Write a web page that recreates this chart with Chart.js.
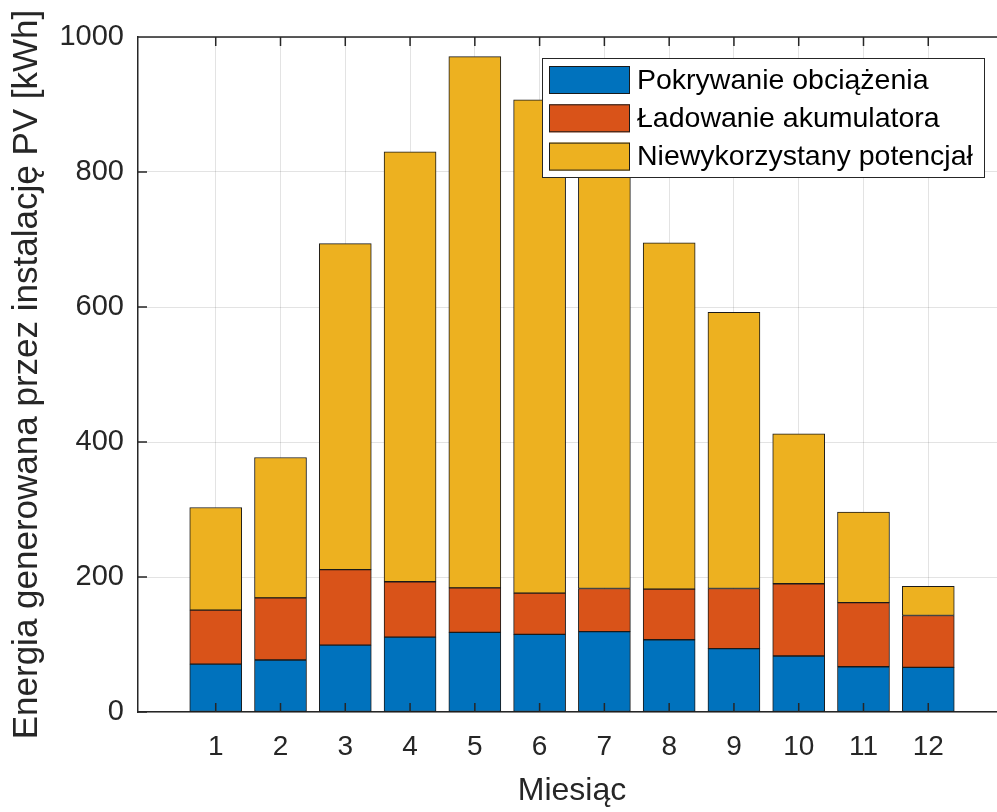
<!DOCTYPE html>
<html lang="pl">
<head>
<meta charset="utf-8">
<title>Energia generowana przez instalację PV</title>
<script src="https://cdn.jsdelivr.net/npm/chart.js@4.4.1/dist/chart.umd.min.js"></script>
<style>
    html, body { margin: 0; padding: 0; background: #fff; overflow: hidden; }
    canvas { display: block; }
</style>
</head>
<body>
<canvas id="pvChart" width="1010" height="812"></canvas>
<script>
const months = [1, 2, 3, 4, 5, 6, 7, 8, 9, 10, 11, 12];
const yTicks = [0, 200, 400, 600, 800, 1000];

// kWh per month, stacked from the bottom
const loadCover = [71, 77, 99, 111, 118, 115, 119, 107, 94, 83, 67, 66];
const batteryCharge = [80, 92, 112, 82, 66, 61, 64, 75, 89, 107, 95, 77];
const unusedPotential = [152, 208, 483, 637, 787, 731, 687, 513, 409, 222, 134, 43];

const seriesNames = ["Pokrywanie obciążenia", "Ładowanie akumulatora", "Niewykorzystany potencjał"];
const seriesColors = ["#0072BD", "#D95319", "#EDB120"];

const FONT = "'Liberation Sans', Arial, Helvetica, sans-serif";
const AXIS = "#262626";
const GRID = "rgba(38, 38, 38, 0.13)";
const EDGE = "#1a1a1a";

const ctx = document.getElementById("pvChart");

function toPoints(values) {
    return values.map((v, i) => ({ x: months[i], y: v }));
}

// box round the axes, inward ticks and the legend in the upper right
const axesFrame = {
    id: "axesFrame",
    afterDraw(chart) {
        const c = chart.ctx;
        const area = chart.chartArea;
        const xs = chart.scales.x;
        const ys = chart.scales.y;
        const tick = 9;

        c.save();
        c.strokeStyle = AXIS;
        c.lineWidth = 1.5;
        c.beginPath();
        c.moveTo(area.left, area.top);
        c.lineTo(area.right, area.top);
        c.lineTo(area.right, area.bottom);
        for (const m of months) {
            const px = xs.getPixelForValue(m);
            c.moveTo(px, area.bottom);
            c.lineTo(px, area.bottom - tick);
            c.moveTo(px, area.top);
            c.lineTo(px, area.top + tick);
        }
        for (const v of yTicks) {
            const py = ys.getPixelForValue(v);
            c.moveTo(area.left, py);
            c.lineTo(area.left + tick, py);
            c.moveTo(area.right, py);
            c.lineTo(area.right - tick, py);
        }
        c.stroke();

        // legend
        const w = 443;
        const h = 120;
        const lx = area.right - 21 - w;
        const ly = area.top + 21;
        c.fillStyle = "#fff";
        c.fillRect(lx, ly, w, h);
        c.lineWidth = 1;
        c.strokeStyle = AXIS;
        c.strokeRect(lx + 0.5, ly + 0.5, w - 1, h - 1);

        c.font = "28.5px " + FONT;
        c.textBaseline = "middle";
        c.textAlign = "left";
        for (let i = 0; i < seriesNames.length; i++) {
            const sy = ly + 8 + i * 38.3;
            c.fillStyle = seriesColors[i];
            c.fillRect(lx + 7, sy, 81, 28);
            c.strokeStyle = EDGE;
            c.strokeRect(lx + 7.5, sy + 0.5, 80, 27);
            c.fillStyle = "#000";
            c.fillText(seriesNames[i], lx + 95, sy + 15);
        }
        c.restore();
    },
};

new Chart(ctx, {
    type: "bar",
    data: {
        datasets: [loadCover, batteryCharge, unusedPotential].map((values, i) => ({
            label: seriesNames[i],
            data: toPoints(values),
            backgroundColor: seriesColors[i],
            borderColor: EDGE,
            borderWidth: 1,
            borderSkipped: false,
            barThickness: 52,
        })),
    },
    options: {
        responsive: false,
        animation: false,
        layout: {
            padding: { top: 37, right: 4, bottom: 0, left: 0 },
        },
        plugins: {
            legend: { display: false },
            tooltip: { enabled: false },
        },
        scales: {
            x: {
                type: "linear",
                stacked: true,
                min: -0.2,
                max: 13.2,
                offset: false,
                afterBuildTicks: (axis) => {
                    axis.ticks = months.map((m) => ({ value: m }));
                },
                afterFit: (scale) => {
                    scale.height = 100;
                },
                grid: { color: GRID, lineWidth: 1, drawTicks: false, offset: false },
                border: { color: AXIS, width: 1.5 },
                ticks: {
                    color: AXIS,
                    padding: 18,
                    maxRotation: 0,
                    font: { family: FONT, size: 28 },
                },
                title: {
                    display: true,
                    text: "Miesiąc",
                    color: AXIS,
                    font: { family: FONT, size: 32 },
                    padding: { top: 0, bottom: 2 },
                },
            },
            y: {
                stacked: true,
                min: 0,
                max: 1000,
                afterBuildTicks: (axis) => {
                    axis.ticks = yTicks.map((v) => ({ value: v }));
                },
                afterFit: (scale) => {
                    scale.width = 138;
                },
                grid: { color: GRID, lineWidth: 1, drawTicks: false },
                border: { color: AXIS, width: 1.5 },
                ticks: {
                    color: AXIS,
                    padding: 14,
                    font: { family: FONT, size: 29 },
                    callback: (v) => String(v),
                },
                title: {
                    display: true,
                    text: "Energia generowana przez instalację PV [kWh]",
                    color: AXIS,
                    font: { family: FONT, size: 35 },
                    padding: { top: 6, bottom: 0 },
                },
            },
        },
    },
    plugins: [axesFrame],
});
</script>
</body>
</html>
